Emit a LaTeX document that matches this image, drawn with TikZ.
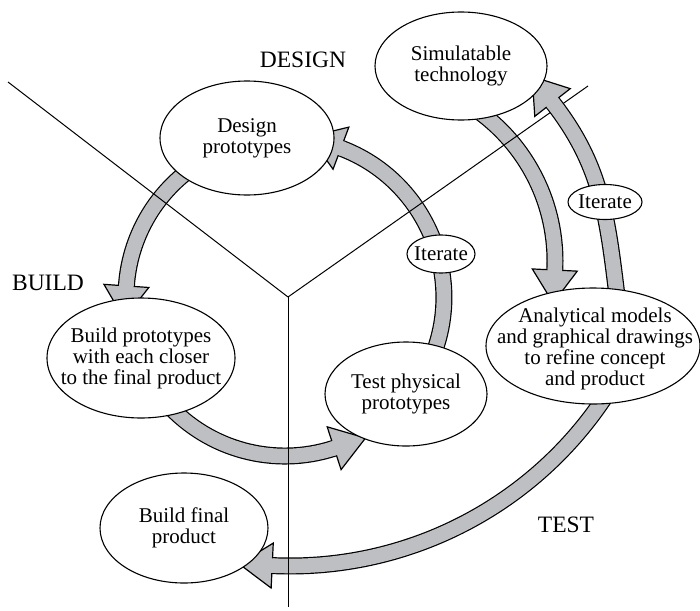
\documentclass[tikz,border=0pt]{standalone}
\usepackage{fontspec}
\setmainfont{Liberation Serif}
\usetikzlibrary{shapes.geometric,backgrounds}
\definecolor{arrgray}{RGB}{190,191,194}
\tikzset{
  ellbox/.style={ellipse, draw=black, line width=1.1pt, fill=white, inner sep=0pt},
  ntext/.style={align=center, inner sep=0pt, font=\fontsize{21}{21}\selectfont},
  lab/.style={inner sep=0pt, font=\fontsize{23.5}{24}\selectfont},
  shaft/.style={draw=black, line width=1.2pt, double=arrgray, double distance=14.6pt},
  headst/.style={draw=black, fill=arrgray, line width=1.2pt, line join=miter},
  sector/.style={draw=black, line width=1pt},
}
\newcommand{\ahead}[2]{%
  \begin{scope}[shift={(#1)}, rotate=#2]
    \draw[headst] (0,-22.5) -- (33,0) -- (0,22.5) -- cycle;
    \fill[arrgray] (-2,-7.3) rectangle (1.3,7.3);
  \end{scope}}
\begin{document}
\begin{tikzpicture}[x=1pt,y=1pt]
\useasboundingbox (0,0) rectangle (700,-610);
% ellipses
\node[ellbox, minimum width=174pt, minimum height=114pt] (dp) at (247,-138) {};
\node[ntext] (dpt) at (dp) {Design\\prototypes};
\node[ellbox, minimum width=172pt, minimum height=108pt] (sim) at (461,-66) {};
\node[ntext] (simt) at (sim) {Simulatable\\technology};
\node[ellbox, minimum width=188pt, minimum height=120pt] (bp) at (141,-358) {};
\node[ntext] (bpt) at (bp) {Build prototypes\\with each closer\\to the final product};
\node[ellbox, minimum width=162pt, minimum height=104pt] (tp) at (406,-394) {};
\node[ntext] (tpt) at (tp) {Test physical\\prototypes};
\node[ellbox, minimum width=214pt, minimum height=116pt] (am) at (593,-346) {};
\node[ntext] (amt) at (595,-349) {Analytical models\\and graphical drawings\\to refine concept\\and product};
\node[ellbox, minimum width=168pt, minimum height=110pt] (bf) at (184,-528) {};
\node[ntext] (bft) at (bf) {Build final\\product};
\node[ellbox, minimum width=68pt, minimum height=38pt] (it1) at (441,-254) {};
\node[ntext] (it1t) at (it1) {Iterate};
\node[ellbox, minimum width=74pt, minimum height=35pt] (it2) at (605,-202) {};
\node[ntext] (it2t) at (it2) {Iterate};
% labels
\node[lab] (ldesign) at (303,-60) {DESIGN};
\node[lab] (lbuild) at (48,-283) {BUILD};
\node[lab] (ltest) at (566,-525) {TEST};
% geometry
\coordinate (C1) at (285,-297);
\coordinate (C2) at (370,-261);
\coordinate (C3) at (290,-188);
\path (C1) ++(125:159) coordinate (a1s);
\path (C1) ++(176:159) coordinate (a1e);
\path (C1) ++(222:159) coordinate (a2s);
\path (C1) ++(288:159) coordinate (a2e);
\path (C1) ++(338:159) coordinate (a3s);
\path (C1) ++(69.4:159) coordinate (a3e);
\path (C2) ++(56:185) coordinate (b1s);
\path (C2) ++(-2.8:185) coordinate (b1e);
\coordinate (b2s) at (617.5,-300);
\coordinate (b2e) at (552.5,-102.5);
\path (C3) ++(330:378) coordinate (b3s);
\path (C3) ++(267.3:378) coordinate (b3e);
\coordinate (hub) at (288,-297);
\coordinate (l1) at (8,-82);
\coordinate (l2) at (588,-86);
\coordinate (l3) at (288,-607);
\begin{pgfonlayer}{background}
\draw[shaft] (a1s) to[out=215, in=86, looseness=0.9] (a1e);
\ahead{a1e}{266}
\draw[shaft] (a2s) to[out=312, in=198, looseness=0.93] (a2e);
\ahead{a2e}{18}
\draw[shaft] (a3s) to[out=68, in=339.4] (a3e);
\ahead{a3e}{159.4}
\draw[shaft] (b1s) to[out=-34, in=87.2, looseness=0.91] (b1e);
\ahead{b1e}{267.2}
\draw[shaft] (b3s) to[out=240, in=357.3, looseness=0.92] (b3e);
\ahead{b3e}{177.3}
\draw[sector] (hub) -- (l1);
\draw[sector] (hub) -- (l2);
\draw[sector] (hub) -- (l3);
\draw[shaft] (b2s) to[out=97, in=308] (b2e);
\ahead{b2e}{128}
\end{pgfonlayer}
\end{tikzpicture}
\end{document}
